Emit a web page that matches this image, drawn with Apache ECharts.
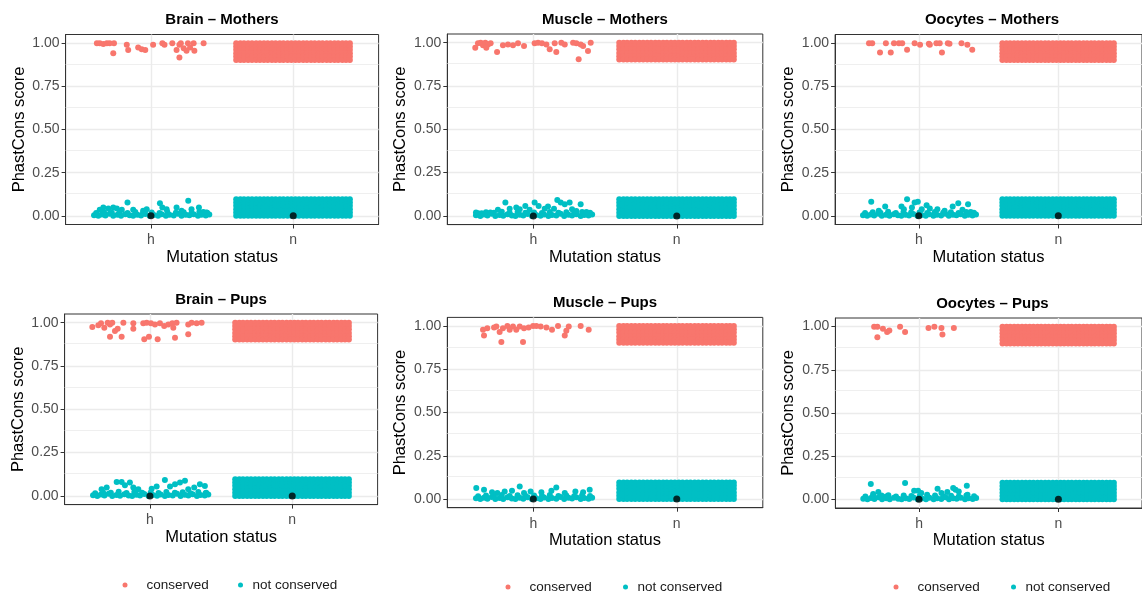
<!DOCTYPE html>
<html>
<head>
<meta charset="utf-8">
<script src="https://cdn.jsdelivr.net/npm/echarts@6/dist/echarts.min.js"></script>
<style>
html,body{margin:0;padding:0;background:#fff;}
#chart{width:1142px;height:597px;}
</style>
</head>
<body>
<div id="chart"></div>
<script>
// ---------------- DATA ----------------
const categories = ['h', 'n'];
const categoryPos = [1, 2];
const yTickValues = [0, 0.25, 0.5, 0.75, 1];
const yMinorValues = [0.125, 0.375, 0.625, 0.875];
const seriesNames = ['conserved', 'not conserved'];
const panelTitles = ['Brain – Mothers', 'Muscle – Mothers', 'Oocytes – Mothers',
                     'Brain – Pups', 'Muscle – Pups', 'Oocytes – Pups'];
const xAxisTitle = 'Mutation status';
const yAxisTitle = 'PhastCons score';

// "h" group: [jitter offset from category h, PhastCons score]
const brainMothersConsH = [[-0.38,1.0],[-0.36,1.0],[-0.335,0.995],[-0.31,1.0],[-0.29,1.0],[-0.26,1.0],[-0.265,0.942],[-0.17,0.99],[-0.16,0.96],[-0.09,0.975],[-0.065,0.965],[-0.04,0.96],[0.015,0.99],[0.08,1.0],[0.095,0.99],[0.15,1.0],[0.2,0.99],[0.21,1.0],[0.18,0.96],[0.2,0.917],[0.23,0.97],[0.26,1.0],[0.3,1.0],[0.305,0.956],[0.275,0.975],[0.25,0.956],[0.37,1.0]];
const brainMothersNotH = [[-0.36,0.035],[-0.335,0.048],[-0.3,0.042],[-0.265,0.048],[-0.24,0.042],[-0.205,0.035],[-0.165,0.077],[-0.125,0.035],[-0.055,0.029],[-0.03,0.039],[0.063,0.073],[0.08,0.048],[0.11,0.039],[0.18,0.048],[0.215,0.029],[0.262,0.087],[0.285,0.039],[0.337,0.048],[0.368,0.023],[0.39,0.019]];

const muscleMothersConsH = [[-0.405,0.971],[-0.386,0.996],[-0.367,1.0],[-0.351,0.985],[-0.335,1.0],[-0.316,0.99],[-0.298,0.996],[-0.328,0.971],[-0.253,0.946],[-0.212,0.985],[-0.177,0.99],[-0.142,0.985],[-0.107,0.996],[-0.065,0.981],[0.009,0.996],[0.033,1.0],[0.06,0.996],[0.091,0.99],[0.114,0.962],[0.149,0.996],[0.16,0.946],[0.195,1.0],[0.219,0.99],[0.277,1.0],[0.3,0.996],[0.316,0.904],[0.33,0.99],[0.347,0.981],[0.381,0.952],[0.4,1.0]];
const muscleMothersNotH = [[-0.4,0.02],[-0.36,0.015],[-0.3,0.02],[-0.247,0.035],[-0.195,0.077],[-0.165,0.042],[-0.119,0.048],[-0.095,0.038],[-0.056,0.058],[-0.026,0.035],[0.009,0.077],[0.037,0.058],[0.079,0.042],[0.102,0.054],[0.144,0.042],[0.167,0.092],[0.191,0.077],[0.219,0.067],[0.253,0.077],[0.27,0.038],[0.3,0.029],[0.33,0.067],[0.37,0.023]];

const oocytesMothersConsH = [[-0.357,1.0],[-0.334,1.0],[-0.278,0.946],[-0.236,1.0],[-0.201,0.946],[-0.178,1.0],[-0.143,1.0],[-0.119,1.0],[-0.084,0.962],[-0.03,1.0],[0.009,0.99],[0.072,0.996],[0.079,0.99],[0.126,1.0],[0.15,1.0],[0.166,0.946],[0.208,1.0],[0.22,0.996],[0.306,1.0],[0.348,0.99],[0.383,0.962]];
const oocytesMothersNotH = [[-0.341,0.081],[-0.287,0.029],[-0.241,0.054],[-0.124,0.054],[-0.084,0.096],[-0.107,0.038],[-0.049,0.048],[-0.03,0.077],[-0.007,0.081],[0.021,0.038],[0.056,0.062],[0.079,0.042],[0.133,0.038],[0.185,0.029],[0.243,0.054],[0.283,0.073],[0.313,0.035],[0.353,0.067],[0.372,0.023]];

const brainPupsConsH = [[-0.405,0.975],[-0.363,0.985],[-0.344,0.996],[-0.321,0.971],[-0.297,1.0],[-0.281,0.99],[-0.281,0.919],[-0.265,1.0],[-0.246,0.952],[-0.227,0.965],[-0.199,0.919],[-0.187,1.0],[-0.117,0.996],[-0.117,0.965],[-0.047,0.996],[-0.04,0.904],[-0.023,1.0],[-0.007,0.919],[0.007,0.996],[0.035,0.99],[0.054,0.904],[0.07,0.996],[0.1,0.981],[0.129,0.99],[0.157,0.996],[0.164,0.971],[0.176,0.913],[0.187,1.0],[0.269,0.933],[0.269,0.99],[0.293,1.0],[0.328,0.996],[0.363,1.0]];
const brainPupsNotH = [[-0.34,0.038],[-0.304,0.048],[-0.234,0.081],[-0.199,0.081],[-0.176,0.062],[-0.141,0.077],[-0.117,0.048],[-0.082,0.038],[0.012,0.042],[0.047,0.054],[0.105,0.092],[0.141,0.054],[0.176,0.067],[0.211,0.077],[0.246,0.087],[0.269,0.038],[0.311,0.048],[0.351,0.067],[0.386,0.058],[0.391,0.015]];

const musclePupsConsH = [[-0.351,0.979],[-0.344,0.946],[-0.321,0.988],[-0.274,0.992],[-0.258,0.998],[-0.235,0.965],[-0.223,0.908],[-0.212,0.988],[-0.181,1.0],[-0.165,0.979],[-0.142,0.998],[-0.119,0.979],[-0.095,0.998],[-0.072,0.908],[-0.065,0.988],[-0.033,0.992],[-0.002,1.0],[0.021,1.0],[0.051,0.998],[0.091,0.992],[0.13,0.979],[0.172,1.0],[0.219,0.946],[0.23,0.973],[0.247,0.998],[0.33,1.0],[0.386,0.979]];
const musclePupsNotH = [[-0.398,0.064],[-0.344,0.054],[-0.288,0.04],[-0.251,0.035],[-0.2,0.044],[-0.149,0.048],[-0.095,0.073],[-0.065,0.035],[-0.019,0.044],[0.056,0.04],[0.126,0.048],[0.16,0.067],[0.219,0.035],[0.293,0.044],[0.347,0.04],[0.393,0.054]];

const oocytesPupsConsH = [[-0.322,1.0],[-0.299,1.0],[-0.299,0.938],[-0.259,0.988],[-0.229,0.969],[-0.213,0.977],[-0.136,1.0],[-0.1,0.969],[0.068,0.992],[0.11,1.0],[0.161,0.992],[0.168,0.954],[0.25,0.992]];
const oocytesPupsNotH = [[-0.346,0.089],[-0.329,0.031],[-0.292,0.042],[-0.269,0.023],[-0.236,0.017],[-0.1,0.095],[-0.035,0.05],[-0.007,0.05],[0.016,0.037],[0.058,0.027],[0.133,0.062],[0.161,0.037],[0.203,0.042],[0.245,0.066],[0.262,0.056],[0.285,0.046],[0.343,0.079],[0.348,0.027]];

// dense low-score rows of the "h" group (all panels)
const hBaselineNot = [[-0.40,0.004],[-0.37,0.0],[-0.345,0.008],[-0.32,0.002],[-0.29,0.012],[-0.265,0.0],[-0.235,0.006],[-0.21,0.001],[-0.18,0.01],[-0.15,0.003],[-0.125,0.0],[-0.095,0.007],[-0.07,0.002],[-0.04,0.011],[-0.01,0.0],[0.02,0.005],[0.05,0.001],[0.075,0.009],[0.105,0.0],[0.13,0.006],[0.16,0.002],[0.19,0.012],[0.215,0.0],[0.245,0.007],[0.27,0.003],[0.3,0.01],[0.33,0.0],[0.355,0.006],[0.385,0.002],[0.41,0.008],
  [-0.385,0.016],[-0.33,0.021],[-0.275,0.018],[-0.22,0.024],[-0.165,0.017],[-0.11,0.022],[-0.055,0.019],[0.005,0.02],[0.06,0.017],[0.115,0.023],[0.175,0.018],[0.23,0.021],[0.285,0.016],[0.34,0.022],[0.395,0.018]];

// "n" group: saturated bands (jitter offsets and score rows)
const nJitter = [-0.401,-0.372,-0.346,-0.317,-0.290,-0.261,-0.234,-0.206,-0.179,-0.150,-0.124,-0.095,-0.069,-0.040,-0.013,0.015,0.041,0.070,0.096,0.125,0.151,0.180,0.206,0.235,0.261,0.290,0.316,0.345,0.371,0.398];
const nConsScores = [1.0, 0.981, 0.962, 0.941, 0.922, 0.903];
const nNotScores = [0.0, 0.019, 0.038, 0.059, 0.078, 0.096];

// black summary points (h, n)
const summaryScores = [0, 0];

const consH = [brainMothersConsH, muscleMothersConsH, oocytesMothersConsH, brainPupsConsH, musclePupsConsH, oocytesPupsConsH];
const notH = [brainMothersNotH, muscleMothersNotH, oocytesMothersNotH, brainPupsNotH, musclePupsNotH, oocytesPupsNotH];

// ---------------- LAYOUT ----------------
const FONT = "'Liberation Sans', Arial, Helvetica, sans-serif";
const panels = [
  {left: 65.6, top: 34.5, width: 313, height: 190, tx: 222, ty: 18},
  {left: 447.3, top: 34, width: 315.5, height: 190.6, tx: 605, ty: 18},
  {left: 835.1, top: 34.5, width: 313.7, height: 190, tx: 992, ty: 18},
  {left: 64.6, top: 314, width: 313, height: 190.6, tx: 221, ty: 298.3},
  {left: 447.3, top: 317.4, width: 315.5, height: 190.3, tx: 605, ty: 301.7},
  {left: 835.4, top: 318, width: 314, height: 190, tx: 992.4, ty: 302.7}
];
const legendPos = [
  {cx: 125, tx: 240, cy: 584},
  {cx: 508, tx: 625, cy: 586},
  {cx: 896, tx: 1013, cy: 586}
];
const RED = '#F8766D', CYAN = '#00BFC4';

const grids = [], xAxes = [], yAxes = [], series = [], titles = [], legends = [];

panels.forEach((p, i) => {
  grids.push({left: p.left, top: p.top, width: p.width, height: p.height,
    show: true, borderColor: '#333333', borderWidth: 1, backgroundColor: '#fff', containLabel: false});
  titles.push({text: panelTitles[i], left: p.tx, top: p.ty - 6, textAlign: 'center', padding: 0,
    textStyle: {fontFamily: FONT, fontSize: 15, fontWeight: 'bold', color: '#000'}});
  xAxes.push({type: 'value', gridIndex: i, min: 0.4, max: 2.6,
    name: xAxisTitle, nameLocation: 'middle', nameGap: 24,
    nameTextStyle: {fontFamily: FONT, fontSize: 16.5, color: '#000'},
    axisLine: {show: true, onZero: false, lineStyle: {color: '#333333', width: 1}},
    axisTick: {show: true, customValues: categoryPos, length: 4, lineStyle: {color: '#333333', width: 1}},
    axisLabel: {customValues: categoryPos, margin: 9, fontFamily: FONT, fontSize: 14, color: '#4D4D4D',
      formatter: v => { const k = categoryPos.indexOf(v); return k >= 0 ? categories[k] : ''; }},
    splitLine: {show: true, lineStyle: {color: '#EBEBEB', width: 1.4}}
  });
  yAxes.push({type: 'value', gridIndex: i, min: -0.05, max: 1.05,
    name: yAxisTitle, nameLocation: 'middle', nameGap: 38,
    nameTextStyle: {fontFamily: FONT, fontSize: 16.5, color: '#000'},
    axisLine: {show: true, onZero: false, lineStyle: {color: '#333333', width: 1}},
    axisTick: {show: true, customValues: yTickValues, length: 4, lineStyle: {color: '#333333', width: 1}},
    axisLabel: {customValues: yTickValues, margin: 6, fontFamily: FONT, fontSize: 14, color: '#4D4D4D',
      formatter: v => v.toFixed(2)},
    splitLine: {show: true, lineStyle: {color: '#EBEBEB', width: 1.4}}
  });

  // minor grid lines
  series.push({type: 'scatter', xAxisIndex: i, yAxisIndex: i, data: [], silent: true, z: 1,
    markLine: {silent: true, symbol: 'none', label: {show: false}, animation: false,
      lineStyle: {color: '#EBEBEB', width: 0.8, type: 'solid'},
      data: yMinorValues.map(v => ({yAxis: v}))}});

  const consData = consH[i].map(d => [categoryPos[0] + d[0], d[1]]);
  nJitter.forEach(dx => nConsScores.forEach(y => consData.push([categoryPos[1] + dx, y])));
  const notData = hBaselineNot.map(d => [categoryPos[0] + d[0], d[1]])
    .concat(notH[i].map(d => [categoryPos[0] + d[0], d[1]]));
  nJitter.forEach(dx => nNotScores.forEach(y => notData.push([categoryPos[1] + dx, y])));

  series.push({name: seriesNames[0], type: 'scatter', xAxisIndex: i, yAxisIndex: i, data: consData,
    symbolSize: 6, itemStyle: {color: RED, opacity: 1}, z: 2, animation: false, silent: true});
  series.push({name: seriesNames[1], type: 'scatter', xAxisIndex: i, yAxisIndex: i, data: notData,
    symbolSize: 6, itemStyle: {color: CYAN, opacity: 1}, z: 2, animation: false, silent: true});
  series.push({name: 'summary', type: 'scatter', xAxisIndex: i, yAxisIndex: i,
    data: categoryPos.map((x, k) => [x, summaryScores[k]]),
    symbolSize: 7, itemStyle: {color: '#000'}, z: 3, animation: false, silent: true});
});

legendPos.forEach(l => {
  legends.push({data: [seriesNames[0]], left: l.cx - 2.5, top: l.cy - 6, padding: 0, icon: 'circle',
    itemWidth: 33, itemHeight: 5, selectedMode: false,
    textStyle: {fontFamily: FONT, fontSize: 13.5, color: '#1a1a1a'}});
  legends.push({data: [seriesNames[1]], left: l.tx - 2, top: l.cy - 6, padding: 0, icon: 'circle',
    itemWidth: 14, itemHeight: 5, selectedMode: false,
    textStyle: {fontFamily: FONT, fontSize: 13.5, color: '#1a1a1a'}});
});

const chart = echarts.init(document.getElementById('chart'), null, {renderer: 'canvas'});
chart.setOption({
  animation: false,
  backgroundColor: '#fff',
  title: titles,
  legend: legends,
  grid: grids,
  xAxis: xAxes,
  yAxis: yAxes,
  series: series
});
</script>
</body>
</html>
